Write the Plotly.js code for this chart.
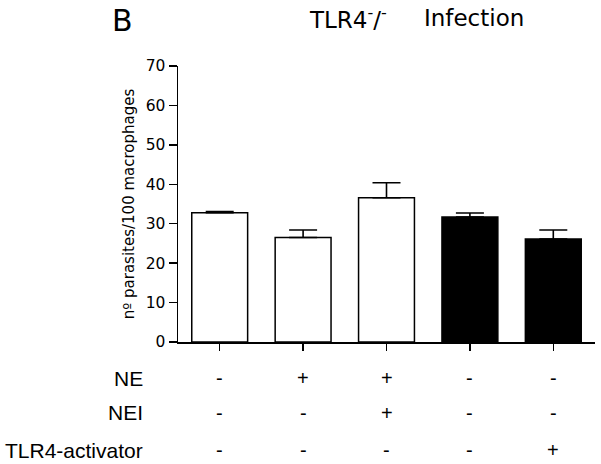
<!DOCTYPE html>
<html>
<head>
<meta charset="utf-8">
<script src="https://cdn.plot.ly/plotly-3.0.1.min.js"></script>
<style>html,body{margin:0;padding:0;background:#fff;}#chart{width:601px;height:464px;}</style>
</head>
<body>
<div id="chart"></div>
<script>
// Data
const groups = [0, 1, 2, 3, 4];
const values = [32.8, 26.5, 36.6, 31.7, 26.1];
const errorsUp = [0.3, 1.9, 3.8, 1.0, 2.3];
const barColors = ['#ffffff', '#ffffff', '#ffffff', '#000000', '#000000'];
const rowLabels = ['NE', 'NEI', 'TLR4-activator'];
const rowNE = ['-', '+', '+', '-', '-'];
const rowNEI = ['-', '-', '+', '-', '-'];
const rowTLR4act = ['-', '-', '-', '-', '+'];
const yTickVals = [0, 10, 20, 30, 40, 50, 60, 70];

const FONT = 'DejaVu Sans, Arial, sans-serif';
const AFONT = 'Liberation Sans, Arial, sans-serif';

const trace = {
  type: 'bar',
  x: groups,
  y: values,
  width: 0.67,
  marker: { color: barColors, line: { color: '#000', width: 1.5 } },
  error_y: {
    type: 'data', symmetric: false,
    array: errorsUp, arrayminus: groups.map(() => 0),
    color: '#000', thickness: 1.6, width: 14
  },
  hoverinfo: 'none'
};

const rows = [rowNE, rowNEI, rowTLR4act];
const rowY = [-0.132, -0.256, -0.393];
const annotations = [];
rows.forEach((row, r) => {
  annotations.push({
    xref: 'paper', yref: 'paper', x: -0.079, y: rowY[r],
    xanchor: 'right', yanchor: 'middle', showarrow: false,
    text: rowLabels[r], font: { family: AFONT, size: 21, color: '#000' }
  });
  row.forEach((s, i) => {
    annotations.push({
      xref: 'x', yref: 'paper', x: groups[i], y: rowY[r],
      xanchor: 'center', yanchor: 'middle', showarrow: false,
      text: s, font: { family: AFONT, size: 20, color: '#000' }
    });
  });
});
annotations.push({
  xref: 'paper', yref: 'paper', x: -0.163, y: 1.165,
  xanchor: 'left', yanchor: 'middle', showarrow: false,
  text: 'B', font: { family: FONT, size: 30, color: '#000' }
});
annotations.push({
  xref: 'paper', yref: 'paper', x: 0.31, y: 1.175,
  xanchor: 'left', yanchor: 'middle', showarrow: false,
  text: 'TLR4<sup>-</sup>/<sup>-</sup>', font: { family: FONT, size: 23, color: '#000' }
});
annotations.push({
  xref: 'paper', yref: 'paper', x: 0.586, y: 1.175,
  xanchor: 'left', yanchor: 'middle', showarrow: false,
  text: 'Infection', font: { family: FONT, size: 23, color: '#000' }
});

const layout = {
  width: 601, height: 464,
  margin: { l: 178, r: 6, t: 65.5, b: 121.5 },
  paper_bgcolor: '#fff', plot_bgcolor: '#fff',
  showlegend: false,
  font: { family: FONT, color: '#000' },
  xaxis: {
    range: [-0.5, 4.5], showgrid: false, zeroline: false,
    showline: true, linecolor: '#000', linewidth: 1.5,
    ticks: 'outside', ticklen: 7, tickwidth: 1.5, tickcolor: '#000',
    tickvals: groups, showticklabels: false, fixedrange: true
  },
  yaxis: {
    range: [0, 70], showgrid: false, zeroline: false,
    showline: true, linecolor: '#000', linewidth: 1.5,
    ticks: 'outside', ticklen: 8, tickwidth: 1.5, tickcolor: '#000',
    tickvals: yTickVals, ticktext: yTickVals.map(String),
    tickfont: { family: FONT, size: 15.5, color: '#000' },
    title: { text: 'nº parasites/100 macrophages', font: { family: FONT, size: 15, color: '#000' }, standoff: 7 },
    fixedrange: true
  },
  annotations: annotations
};

Plotly.newPlot('chart', [trace], layout, { displayModeBar: false, staticPlot: true });
</script>
</body>
</html>
